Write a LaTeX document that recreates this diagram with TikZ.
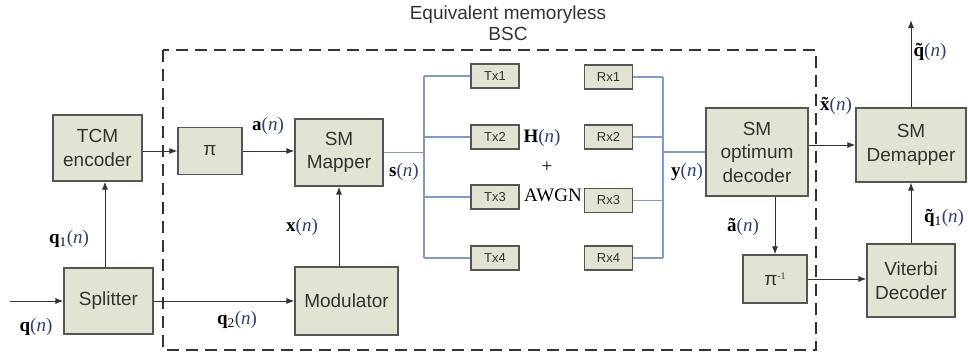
\documentclass[tikz,border=0pt]{standalone}
\usepackage{fontspec}
\setmainfont{Liberation Sans}
\newfontfamily\labfont{Liberation Serif}
\usetikzlibrary{arrows.meta}
\definecolor{boxfill}{HTML}{E2E3D3}
\definecolor{boxdraw}{HTML}{555555}
\definecolor{txtc}{HTML}{333333}
\definecolor{bluel}{HTML}{7F9CC4}
\definecolor{nblue}{HTML}{2B3F7A}
\newcommand\nnarg{\textcolor{nblue}{(\textit{n})}}
\newcommand\tld[1]{\ooalign{\textbf{#1}\cr\hidewidth\textbf{\char"02DC}\hidewidth\cr}}
\tikzset{
  blk/.style={draw=boxdraw, fill=boxfill, line width=1.2pt, text=txtc, align=center,
    font=\fontsize{19}{23.5}\selectfont, inner sep=0pt},
  small/.style={draw=boxdraw, fill=boxfill, line width=1.2pt, text=txtc,
    font=\fontsize{13}{14}\selectfont, minimum width=48pt, minimum height=24pt, inner sep=0pt},
  arr/.style={draw=txtc, line width=1pt, -{Latex[length=8pt,width=6pt]}},
  bl/.style={draw=bluel, line width=1.2pt},
  lab/.style={font=\labfont\fontsize{19}{21}\selectfont, inner sep=0pt},
}
\begin{document}
\begin{tikzpicture}[x=1pt,y=-1pt]
\useasboundingbox (0,0) rectangle (968,356);
% dashed box
\draw[draw=txtc, line width=1.6pt, dash pattern=on 12pt off 7pt] (163,50) rectangle (816,350);
\node[align=center, text=txtc, font=\fontsize{19}{21.5}\selectfont] (title) at (508,23) {Equivalent memoryless\\BSC};
% blocks
\node[blk, minimum width=89pt, minimum height=66pt] (tcm) at (97.5,148) {TCM\\encoder};
\node[blk, minimum width=89pt, minimum height=66pt] (split) at (108.5,301) {Splitter};
\node[blk, minimum width=64pt, minimum height=47pt] (pi) at (210,151) {π};
\node[blk, minimum width=88pt, minimum height=67pt] (map) at (339,152.5) {SM\\Mapper};
\node[blk, minimum width=103pt, minimum height=68pt] (mod) at (346.5,301) {Modulator};
\node[small] (tx1) at (495,76) {Tx1};
\node[small] (tx2) at (495,137) {Tx2};
\node[small] (tx3) at (495,197) {Tx3};
\node[small] (tx4) at (495,258) {Tx4};
\node[small] (rx1) at (608.5,77) {Rx1};
\node[small] (rx2) at (608.5,137) {Rx2};
\node[small] (rx3) at (608.5,200.5) {Rx3};
\node[small] (rx4) at (608.5,258) {Rx4};
\node[blk, minimum width=102pt, minimum height=88pt] (dec) at (757,152) {SM\\optimum\\decoder};
\node[blk, minimum width=110pt, minimum height=74pt] (dem) at (911,145) {SM\\Demapper};
\node[blk, minimum width=64pt, minimum height=48pt] (pinv) at (775,279) {π\raisebox{0.6ex}{\labfont\fontsize{10}{10}\selectfont -1}};
\node[blk, minimum width=88pt, minimum height=73pt] (vit) at (911,280.5) {Viterbi\\Decoder};
% coordinates
\coordinate (in) at (10,301);
\coordinate (out) at (911,20);
\coordinate (bt) at (424,76);
\coordinate (bm) at (424,152.5);
\coordinate (bb) at (424,258);
\coordinate (rt) at (663,77);
\coordinate (rm) at (663,152);
\coordinate (rb) at (663,258);
% arrows
\draw[arr] (in) -- (split.west);
\draw[arr] (split.north -| 105,0) -- (tcm.south -| 105,0);
\draw[arr] (split.east) -- (mod.west |- split.east);
\draw[arr] (tcm.east |- pi.west) -- (pi.west);
\draw[arr] (pi.east) -- (map.west |- pi.east);
\draw[arr] (map.south |- mod.north) -- (map.south);
\draw[arr] (dec.east |- dem.west) -- (dem.west);
\draw[arr] (pinv.north |- dec.south) -- (pinv.north);
\draw[arr] (pinv.east) -- (vit.west |- pinv.east);
\draw[arr] (vit.north) -- (dem.south);
\draw[arr] (dem.north) -- (out);
% blue lines
\draw[bl] (map.east |- bm) -- (bm);
\draw[bl] (bt) -- (bb);
\draw[bl] (bt) -- (tx1.west);
\draw[bl] (tx2.west -| bt) -- (tx2.west);
\draw[bl] (tx3.west -| bt) -- (tx3.west);
\draw[bl] (bb) -- (tx4.west);
\draw[bl] (rx1.east) -- (rt);
\draw[bl] (rx2.east) -- (rx2.east -| rt);
\draw[bl] (rx3.east) -- (rx3.east -| rt);
\draw[bl] (rx4.east) -- (rb);
\draw[bl] (rt) -- (rb);
\draw[bl] (rm) -- (dec.west |- rm);
% labels
\node[lab] (lq) at (36,327) {\textbf{q}\nnarg};
\node[lab] (lq1) at (69,239) {\textbf{q}\textsubscript{1}\nnarg};
\node[lab] (lq2) at (237,320) {\textbf{q}\textsubscript{2}\nnarg};
\node[lab] (la) at (268,126) {\textbf{a}\nnarg};
\node[lab] (lx) at (302,227) {\textbf{x}\nnarg};
\node[lab] (ls) at (404,172) {\textbf{s}\nnarg};
\node[lab] (lh) at (542,138) {\textbf{H}\nnarg};
\node[lab] (lplus) at (547,167) {+};
\node[lab] (lawgn) at (553,195) {AWGN};
\node[lab] (ly) at (687,172) {\textbf{y}\nnarg};
\node[lab] (lxt) at (836,106) {\tld{x}\nnarg};
\node[lab] (lat) at (743,227) {\tld{a}\nnarg};
\node[lab] (lqt) at (930,52) {\tld{q}\nnarg};
\node[lab] (lqt1) at (944,218) {\tld{q}\textsubscript{1}\nnarg};
\end{tikzpicture}
\end{document}
